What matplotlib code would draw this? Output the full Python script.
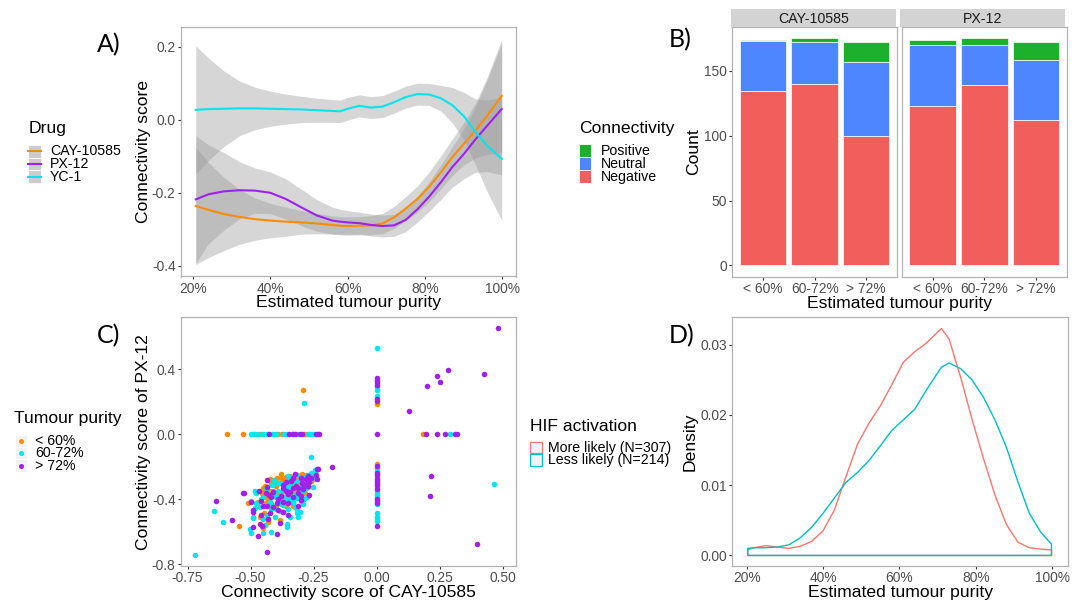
import matplotlib
matplotlib.use("Agg")
import matplotlib.pyplot as plt
import numpy as np
from matplotlib.patches import Rectangle
from matplotlib.lines import Line2D

plt.rcParams['font.family'] = ['Liberation Sans', 'DejaVu Sans']
plt.rcParams['axes.unicode_minus'] = False

# ---------------- A) loess fit of connectivity score vs purity
purity_a = [20.7, 24, 28, 32, 36, 40, 44, 48, 52, 56, 58, 60, 63, 66, 69, 72, 75, 78, 81, 84, 87, 90, 93, 96, 99.8]
cay_fit = [-0.236, -0.247, -0.258, -0.266, -0.272, -0.276, -0.279, -0.281, -0.284, -0.288, -0.290, -0.291, -0.290,
           -0.289, -0.284, -0.267, -0.243, -0.217, -0.184, -0.145, -0.103, -0.066, -0.030, 0.010, 0.065]
cay_se = [0.160, 0.130, 0.100, 0.075, 0.058, 0.047, 0.040, 0.032, 0.028, 0.025, 0.025, 0.025, 0.025,
          0.026, 0.028, 0.030, 0.033, 0.036, 0.040, 0.045, 0.050, 0.058, 0.075, 0.105, 0.155]
px_fit = [-0.218, -0.204, -0.196, -0.193, -0.194, -0.200, -0.217, -0.240, -0.262, -0.276, -0.279, -0.281, -0.283,
          -0.288, -0.291, -0.289, -0.274, -0.245, -0.211, -0.172, -0.130, -0.094, -0.054, -0.017, 0.029]
px_se = [0.174, 0.135, 0.106, 0.078, 0.062, 0.057, 0.055, 0.050, 0.043, 0.037, 0.034, 0.032, 0.030,
         0.030, 0.030, 0.030, 0.032, 0.035, 0.040, 0.047, 0.055, 0.068, 0.090, 0.125, 0.180]
yc_fit = [0.027, 0.029, 0.030, 0.031, 0.031, 0.030, 0.029, 0.028, 0.026, 0.024, 0.023, 0.030, 0.038,
          0.033, 0.036, 0.048, 0.062, 0.070, 0.069, 0.059, 0.040, 0.010, -0.033, -0.071, -0.107]
yc_se = [0.175, 0.140, 0.103, 0.075, 0.058, 0.048, 0.041, 0.036, 0.033, 0.031, 0.031, 0.031, 0.030,
         0.030, 0.030, 0.030, 0.030, 0.030, 0.030, 0.035, 0.048, 0.065, 0.090, 0.125, 0.168]
drugs = ['CAY-10585', 'PX-12', 'YC-1']
drug_cols = ['#FF8C00', '#A020F0', '#00E5EE']

# ---------------- B) counts per purity group
groups = ['< 60%', '60-72%', '> 72%']
conn_levels = ['Positive', 'Neutral', 'Negative']
conn_cols = ['#1CB02C', '#4E86FF', '#F25E5B']
cay_neg = [134, 140, 100]
cay_neu = [39, 32, 57]
cay_pos = [1, 3, 15]
px_neg = [123, 139, 112]
px_neu = [47, 31, 46]
px_pos = [4, 5, 14]

# ---------------- C) scatter of connectivity scores
low_x = [-0.379, -0.342, -0.296, -0.246, -0.247, -0.396, -0.423, -0.361, -0.304, -0.260,
         -0.452, -0.443, -0.403, -0.343, -0.314, -0.271, -0.317, -0.456, -0.423, -0.370,
         -0.324, -0.284, -0.383, -0.443, -0.509, -0.439, -0.363, -0.330, -0.403, -0.447,
         -0.383, -0.429, -0.462, -0.547, -0.452,
         -0.350, -0.320, -0.290, -0.270, -0.360, -0.400, -0.310, -0.280, -0.340, -0.260,
         -0.330, -0.370, -0.290, -0.410, -0.350, -0.300, -0.270, -0.390, -0.330, -0.430, -0.360, -0.250,
         -0.450, -0.420, -0.380, -0.310, -0.280, -0.360, -0.400, -0.330, -0.470, -0.300,
         -0.292,
         -0.595, -0.531, -0.459, -0.390, -0.377, -0.336, -0.285, -0.232,
         0.0, 0.0, 0.0, 0.0, 0.0, 0.0, 0.0,
         0.185]
low_y = [-0.243, -0.256, -0.243, -0.260, -0.274, -0.272, -0.278, -0.266, -0.266, -0.266,
         -0.330, -0.319, -0.299, -0.287, -0.287, -0.324, -0.319, -0.361, -0.348, -0.344,
         -0.348, -0.365, -0.375, -0.385, -0.426, -0.426, -0.416, -0.422, -0.447, -0.484,
         -0.529, -0.539, -0.508, -0.566, -0.580,
         -0.300, -0.270, -0.280, -0.300, -0.330, -0.320, -0.350, -0.250, -0.380, -0.290,
         -0.310, -0.290, -0.320, -0.350, -0.410, -0.300, -0.260, -0.370, -0.350, -0.400, -0.440, -0.240,
         -0.350, -0.300, -0.270, -0.260, -0.300, -0.380, -0.440, -0.440, -0.420, -0.410,
         0.274,
         0.0, 0.0, 0.0, 0.0, 0.0, 0.0, 0.0, 0.0,
         0.227, 0.184, -0.184, -0.210, -0.262, -0.323, -0.360,
         0.0]
mid_x = [-0.350, -0.314, -0.272, -0.246, -0.407, -0.285, -0.416, -0.383, -0.330, -0.288,
         -0.253, -0.346, -0.482, -0.433, -0.390, -0.357, -0.301, -0.277, -0.403, -0.500,
         -0.478, -0.423, -0.383, -0.370, -0.337, -0.317, -0.324, -0.462, -0.482, -0.383,
         -0.433, -0.489, -0.492, -0.403, -0.343, -0.317, -0.304, -0.452, -0.502, -0.500,
         -0.452, -0.420, -0.357, -0.443,
         -0.370, -0.390, -0.360, -0.410, -0.380, -0.300, -0.260, -0.240, -0.440, -0.420,
         -0.354, -0.310, -0.316, -0.286, -0.242,
         -0.340, -0.320, -0.360, -0.400, -0.380, -0.290, -0.330, -0.420, -0.350, -0.310, -0.450, -0.270,
         -0.440, -0.390, -0.350, -0.280, -0.340, -0.460, -0.400, -0.370, -0.290, -0.480,
         -0.645, -0.608, -0.720, -0.261, -0.287, 0.466,
         -0.500, -0.490, -0.483, -0.470, -0.450, -0.436, -0.410, -0.400, -0.367, -0.357, -0.315, -0.272, -0.262, -0.252,
         0.0, 0.0, 0.0, 0.0, 0.0, 0.0, 0.0, 0.0, 0.0, 0.0, 0.0, 0.0, 0.0,
         0.290]
mid_y = [-0.256, -0.252, -0.252, -0.221, -0.282, -0.266, -0.313, -0.303, -0.293, -0.313,
         -0.324, -0.319, -0.350, -0.354, -0.348, -0.361, -0.354, -0.385, -0.381, -0.412,
         -0.422, -0.416, -0.406, -0.437, -0.406, -0.395, -0.447, -0.447, -0.457, -0.471,
         -0.498, -0.508, -0.519, -0.508, -0.508, -0.488, -0.478, -0.525, -0.586, -0.611,
         -0.607, -0.601, -0.570, -0.560,
         -0.390, -0.420, -0.400, -0.370, -0.360, -0.330, -0.240, -0.270, -0.440, -0.460,
         -0.554, -0.512, -0.468, -0.397, -0.220,
         -0.340, -0.370, -0.320, -0.390, -0.430, -0.350, -0.420, -0.430, -0.460, -0.290, -0.390, -0.280,
         -0.330, -0.300, -0.280, -0.330, -0.390, -0.400, -0.460, -0.480, -0.430, -0.360,
         -0.475, -0.541, -0.745, -0.139, 0.190, -0.305,
         0.0, 0.0, 0.0, 0.0, 0.0, 0.0, 0.0, 0.0, 0.0, 0.0, 0.0, 0.0, 0.0, 0.0,
         0.531, 0.289, 0.272, 0.237, -0.225, -0.348, -0.373, -0.385, -0.430, -0.484, -0.512, -0.524, -0.533,
         0.0]
high_x = [-0.325, -0.238, -0.235, -0.433, -0.280, -0.267, -0.436, -0.373, -0.359, -0.297,
          -0.277, -0.291, -0.330, -0.465, -0.526, -0.410, -0.343, -0.310, -0.267, -0.425,
          -0.460, -0.396, -0.350, -0.301, -0.433, -0.423, -0.492, -0.460, -0.370, -0.383,
          -0.492, -0.469, -0.462, -0.455, -0.395,
          -0.350, -0.320, -0.300, -0.380, -0.270, -0.500, -0.492,
          -0.360, -0.310, -0.340, -0.390, -0.280, -0.410, -0.330, -0.260, -0.370, -0.440, -0.300, -0.240,
          -0.420, -0.370, -0.290, -0.330, -0.450, -0.390, -0.350, -0.270, -0.430, -0.310,
          -0.637, -0.575, -0.529, -0.436, -0.234, -0.178,
          -0.426, -0.346, -0.330, -0.324, -0.304, -0.295, -0.240, -0.227,
          0.0, 0.0, 0.0, 0.0, 0.0, 0.0, 0.0, 0.0, 0.0, 0.0, 0.0, 0.0, 0.0, 0.0, 0.0, 0.0, 0.0, 0.0, 0.0,
          0.196, 0.240, 0.271, 0.311, 0.319,
          0.483, 0.282, 0.238, 0.252, 0.425, 0.201, 0.129, 0.215, 0.212, 0.397]
high_y = [-0.248, -0.278, -0.213, -0.280, -0.278, -0.293, -0.324, -0.311, -0.293, -0.303,
          -0.307, -0.334, -0.334, -0.348, -0.365, -0.354, -0.354, -0.365, -0.375, -0.375,
          -0.410, -0.422, -0.426, -0.406, -0.443, -0.484, -0.478, -0.498, -0.478, -0.549,
          -0.574, -0.628, -0.556, -0.564, -0.615,
          -0.370, -0.320, -0.270, -0.380, -0.260, -0.420, -0.470,
          -0.350, -0.330, -0.290, -0.400, -0.310, -0.450, -0.390, -0.270, -0.420, -0.360, -0.380, -0.250,
          -0.390, -0.330, -0.340, -0.270, -0.440, -0.470, -0.500, -0.320, -0.520, -0.440,
          -0.412, -0.531, -0.360, -0.724, -0.216, -0.204,
          0.0, 0.0, 0.0, 0.0, 0.0, 0.0, 0.0, 0.0,
          0.348, 0.334, 0.320, 0.303, 0.215, 0.203, 0.0, -0.196, -0.237, -0.250, -0.274, -0.286, -0.299,
          -0.311, -0.336, -0.397, -0.410, -0.422, -0.566,
          0.0, 0.0, 0.0, 0.0, 0.0,
          0.653, 0.396, 0.361, 0.324, 0.373, 0.297, 0.141, -0.258, -0.379, -0.679]

# ---------------- D) density of purity by HIF activation
purity_d = [20.3, 22, 25, 28, 31, 34, 37, 40, 43, 46, 49, 52, 55, 58, 61, 64, 67, 70, 71, 73, 76, 79,
            82, 85, 88, 91, 94, 97, 99.8]
dens_more = [0.0008, 0.0011, 0.0014, 0.0012, 0.0010, 0.0013, 0.0020, 0.0035, 0.0065, 0.0112, 0.0158, 0.0188,
             0.0213, 0.0243, 0.0275, 0.0290, 0.0302, 0.0318, 0.0323, 0.0308, 0.0254, 0.0194, 0.0138, 0.0086,
             0.0044, 0.0019, 0.0011, 0.0009, 0.0008]
dens_less = [0.0010, 0.0011, 0.0011, 0.0012, 0.0015, 0.0025, 0.0040, 0.0060, 0.0082, 0.0104, 0.0118, 0.0135,
             0.0156, 0.0178, 0.0193, 0.0208, 0.0235, 0.0260, 0.0268, 0.0274, 0.0266, 0.0250, 0.0225, 0.0193,
             0.0154, 0.0105, 0.0060, 0.0033, 0.0016]
hif_labels = ['More likely (N=307)', 'Less likely (N=214)']
hif_cols = ['#F8766D', '#00BFC4']

W, H = 1080, 602
fig = plt.figure(figsize=(W / 100, H / 100), dpi=100)


def fx(px):
    return px / W


def fy(py):
    return 1 - py / H


def add_ax(l, t, r, b):
    return fig.add_axes([fx(l), fy(b), (r - l) / W, (b - t) / H])


def style(ax):
    for s in ax.spines.values():
        s.set_color('#B3B3B3')
        s.set_linewidth(0.9)
    ax.tick_params(length=2.2, width=0.8, color='#333333', labelcolor='#4D4D4D', labelsize=9.9, pad=1.5)


pct = [20, 40, 60, 80, 100]
pct_lab = ['%d%%' % p for p in pct]
TITLE = 12.6
LAB = 10.2

# ---- panel A
axA = add_ax(180.7, 26.5, 516.4, 276.5)
xa = np.array(purity_a)
for fit, se, col in zip([cay_fit, px_fit, yc_fit], [cay_se, px_se, yc_se], drug_cols):
    fit = np.array(fit)
    se = np.array(se)
    axA.fill_between(xa, fit - se, fit + se, color='#999999', alpha=0.4, lw=0)
    axA.plot(xa, fit, color=col, lw=1.5)
axA.set_xlim(16.8, 103.6)
axA.set_ylim(-0.429, 0.255)
axA.set_xticks(pct)
axA.set_xticklabels(pct_lab)
axA.set_yticks([-0.4, -0.2, 0.0, 0.2])
axA.set_yticklabels(['-0.4', '-0.2', '0.0', '0.2'])
style(axA)
axA.set_xlabel('Estimated tumour purity', fontsize=TITLE)
axA.xaxis.set_label_coords(0.5, -0.076)
axA.set_ylabel('Connectivity score', fontsize=TITLE)
axA.yaxis.set_label_coords(-0.0885, 0.5)

# ---- panel B
axB1 = add_ax(732.1, 26.7, 897.2, 276.7)
axB2 = add_ax(901.7, 26.7, 1067.2, 276.7)
xb = np.arange(len(groups))
for ax, neg, neu, pos, name, (l, r) in [(axB1, cay_neg, cay_neu, cay_pos, 'CAY-10585', (731, 895.7)),
                                         (axB2, px_neg, px_neu, px_pos, 'PX-12', (900, 1065))]:
    neg = np.array(neg)
    neu = np.array(neu)
    pos = np.array(pos)
    ax.bar(xb, neg, width=0.9, color=conn_cols[2], edgecolor='white', lw=0.5)
    ax.bar(xb, neu, bottom=neg, width=0.9, color=conn_cols[1], edgecolor='white', lw=0.5)
    ax.bar(xb, pos, bottom=neg + neu, width=0.9, color=conn_cols[0], edgecolor='white', lw=0.5)
    ax.set_xlim(-0.6, 2.6)
    ax.set_ylim(-8.7, 183.9)
    ax.set_xticks(xb)
    ax.set_xticklabels(groups)
    ax.set_yticks([0, 50, 100, 150])
    style(ax)
    sax = add_ax(l, 9.3, r, 26.7)
    sax.set_facecolor('#D3D3D3')
    sax.set_xticks([])
    sax.set_yticks([])
    for s in sax.spines.values():
        s.set_visible(False)
    sax.text(0.5, 0.45, name, ha='center', va='center', fontsize=LAB, color='#1A1A1A', transform=sax.transAxes)
axB2.tick_params(left=False, labelleft=False)
axB1.set_ylabel('Count', fontsize=TITLE)
axB1.yaxis.set_label_coords(-0.188, 0.5)
fig.text(fx(899.7), fy(295.5), 'Estimated tumour purity', ha='center', va='top', fontsize=TITLE)

# ---- panel C
axC = add_ax(180.7, 317.3, 516.4, 566)
pt_cols = ['#FF8C00', '#00E5EE', '#A020F0']
for xs, ys, col in zip([low_x, mid_x, high_x], [low_y, mid_y, high_y], pt_cols):
    axC.scatter(xs, ys, s=16, color=col, lw=0)
axC.set_xlim(-0.777, 0.555)
axC.set_ylim(-0.812, 0.72)
axC.set_xticks([-0.75, -0.5, -0.25, 0, 0.25, 0.5])
axC.set_xticklabels(['-0.75', '-0.50', '-0.25', '0.00', '0.25', '0.50'])
axC.set_yticks([-0.8, -0.4, 0.0, 0.4])
axC.set_yticklabels(['-0.8', '-0.4', '0.0', '0.4'])
style(axC)
axC.set_xlabel('Connectivity score of CAY-10585', fontsize=TITLE)
axC.xaxis.set_label_coords(0.5, -0.077)
axC.set_ylabel('Connectivity score of PX-12', fontsize=TITLE)
axC.yaxis.set_label_coords(-0.0885, 0.5)

# ---- panel D
axD = add_ax(732.1, 317.3, 1067.9, 566)
for dens, col in zip([dens_more, dens_less], hif_cols):
    px_ = [purity_d[0]] + purity_d + [purity_d[-1]]
    py_ = [0] + dens + [0]
    axD.fill(px_, py_, fill=False, edgecolor=col, lw=1.0)
axD.set_xlim(16.2, 104.1)
axD.set_ylim(-0.0015, 0.0339)
axD.set_xticks(pct)
axD.set_xticklabels(pct_lab)
axD.set_yticks([0, 0.01, 0.02, 0.03])
axD.set_yticklabels(['0.00', '0.01', '0.02', '0.03'])
style(axD)
axD.set_xlabel('Estimated tumour purity', fontsize=TITLE)
axD.xaxis.set_label_coords(0.5, -0.077)
axD.set_ylabel('Density', fontsize=TITLE)
axD.yaxis.set_label_coords(-0.1016, 0.5)

# ---- panel letters
for lab, x, y in [('A)', 97, 52), ('B)', 669, 47), ('C)', 97, 343), ('D)', 669, 343)]:
    fig.text(fx(x), fy(y), lab, fontsize=18, family='Lato', va='baseline')

# ---- legends
tf = fig.transFigure
fig.text(fx(29), fy(133.5), 'Drug', fontsize=TITLE, va='baseline')
for i, (lab, col) in enumerate(zip(drugs, drug_cols)):
    top = 145 + i * 12.7
    fig.add_artist(Rectangle((fx(28.4), fy(top + 12.7)), 12.4 / W, 12.7 / H, fc='#CCCCCC', ec='white', lw=0.6, transform=tf))
    fig.add_artist(Line2D([fx(28.4), fx(40.8)], [fy(top + 6.35)] * 2, color=col, lw=1.5, transform=tf))
    fig.text(fx(50.2), fy(top + 6.35), lab, fontsize=LAB, va='center')

fig.text(fx(579), fy(133.5), 'Connectivity', fontsize=TITLE, va='baseline')
for i, (lab, col) in enumerate(zip(conn_levels, conn_cols)):
    top = 144.3 + i * 13
    fig.add_artist(Rectangle((fx(578.8), fy(top + 13)), 12.4 / W, 13 / H, fc=col, ec='white', lw=0.6, transform=tf))
    fig.text(fx(600.6), fy(top + 6.5), lab, fontsize=LAB, va='center')

fig.text(fx(14.5), fy(423.5), 'Tumour purity', fontsize=TITLE, va='baseline')
for i, (lab, col) in enumerate(zip(groups, pt_cols)):
    top = 435 + i * 12.2
    fig.add_artist(Rectangle((fx(14.5), fy(top + 12.2)), 12.5 / W, 12.2 / H, fc='#F2F2F2', ec='white', lw=0.6, transform=tf))
    fig.add_artist(Line2D([fx(20.75)], [fy(top + 6.1)], marker='o', ms=3.6, mew=0, color=col, transform=tf))
    fig.text(fx(35.3), fy(top + 6.1), lab, fontsize=LAB, va='center')

fig.text(fx(529.6), fy(431), 'HIF activation', fontsize=TITLE, va='baseline')
for i, (lab, col) in enumerate(zip(hif_labels, hif_cols)):
    top = 441.7 + i * 12.4
    fig.add_artist(Rectangle((fx(530), fy(top + 11.5)), 11.5 / W, 11.5 / H, fc='#F2F2F2', ec=col, lw=0.9, transform=tf))
    fig.text(fx(547.6), fy(top + 6), lab, fontsize=LAB, va='center')

fig.savefig('out.png', dpi=100)
